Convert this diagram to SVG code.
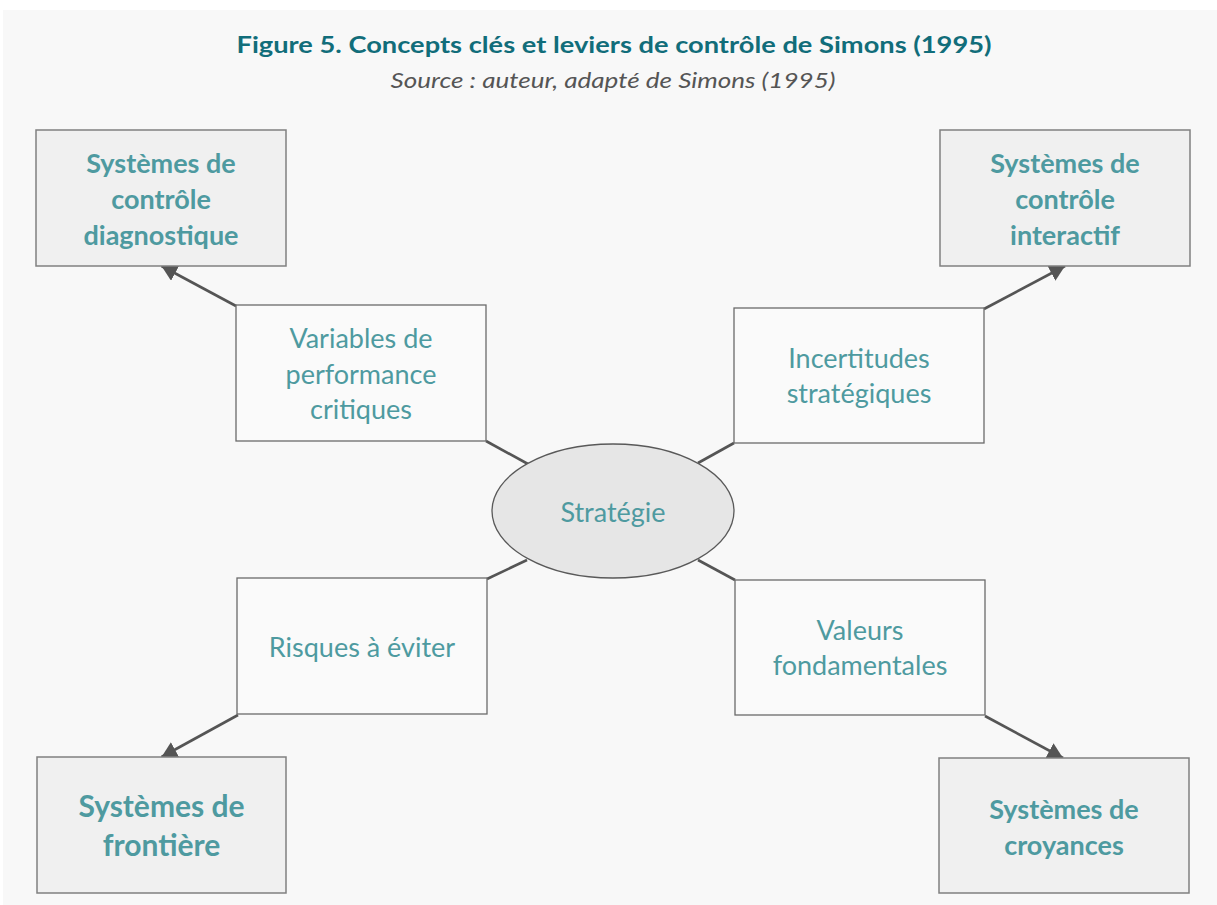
<svg xmlns="http://www.w3.org/2000/svg" width="1217" height="905" viewBox="0 0 1217 905">
<style>
.bg{fill:#f8f8f8}
.outer{fill:#f0f0f0;stroke:#808080;stroke-width:1.5}
.inner{fill:#fafafa;stroke:#6a6a6a;stroke-width:1.3}
.ell{fill:#e6e6e6;stroke:#595959;stroke-width:1.3}
.conn{stroke:#555;stroke-width:2.6;fill:none}
.t{font-family:Lato,"Open Sans",sans-serif;fill:#4e9aa0;text-anchor:middle}
.b{font-weight:bold;font-size:27px}
.r{font-size:27px}
.big{font-size:30px}
.title{font-family:Lato,"Open Sans",sans-serif;font-weight:bold;font-size:23px;fill:#116d7a;text-anchor:middle}
.sub{font-family:Lato,"Open Sans",sans-serif;font-style:italic;font-size:21px;fill:#555;text-anchor:middle}
</style>
<defs>
<marker id="ah" markerUnits="userSpaceOnUse" markerWidth="16" markerHeight="18" viewBox="0 0 16 18" refX="15.4" refY="8.5" orient="auto">
<path d="M0,0 L15.4,8.5 L0,17 z" fill="#555"/>
</marker>
</defs>
<rect x="0" y="0" width="1217" height="905" fill="#ffffff"/>
<rect class="bg" x="3" y="10" width="1214" height="895"/>
<g id="title">
<text class="title" x="614" y="53" textLength="755" lengthAdjust="spacingAndGlyphs">Figure 5. Concepts clés et leviers de contrôle de Simons (1995)</text>
<text class="sub" x="613" y="88" textLength="445" lengthAdjust="spacingAndGlyphs">Source : auteur, adapté de Simons (1995)</text>
</g>
<g id="connectors">
<line class="conn" x1="236" y1="306" x2="161.5" y2="266" marker-end="url(#ah)"/>
<line class="conn" x1="984" y1="309" x2="1065" y2="266" marker-end="url(#ah)"/>
<line class="conn" x1="238" y1="715" x2="161.5" y2="757" marker-end="url(#ah)"/>
<line class="conn" x1="985" y1="716" x2="1063" y2="758" marker-end="url(#ah)"/>
<line class="conn" x1="486" y1="441" x2="528" y2="464"/>
<line class="conn" x1="734" y1="443" x2="698" y2="463"/>
<line class="conn" x1="487" y1="579" x2="527" y2="560"/>
<line class="conn" x1="698" y1="560" x2="735" y2="580"/>
</g>
<g id="diagnostique">
<rect class="outer" x="36" y="130" width="250" height="136"/>
<text class="t b" x="161" y="173">Systèmes de</text>
<text class="t b" x="161" y="209">contrôle</text>
<text class="t b" x="161" y="245">diagnostique</text>
</g>
<g id="interactif">
<rect class="outer" x="940" y="130" width="250" height="136"/>
<text class="t b" x="1065" y="173">Systèmes de</text>
<text class="t b" x="1065" y="209">contrôle</text>
<text class="t b" x="1065" y="245">interactif</text>
</g>
<g id="frontiere">
<rect class="outer" x="37" y="757" width="249" height="136"/>
<text class="t b big" x="161.5" y="817">Systèmes de</text>
<text class="t b big" x="161.5" y="856">frontière</text>
</g>
<g id="croyances">
<rect class="outer" x="939" y="758" width="250" height="135"/>
<text class="t b" x="1064" y="819">Systèmes de</text>
<text class="t b" x="1064" y="855">croyances</text>
</g>
<g id="variables">
<rect class="inner" x="236" y="305" width="250" height="136"/>
<text class="t r" x="361" y="348">Variables de</text>
<text class="t r" x="361" y="384">performance</text>
<text class="t r" x="361" y="419">critiques</text>
</g>
<g id="incertitudes">
<rect class="inner" x="734" y="308" width="250" height="135"/>
<text class="t r" x="859" y="368">Incertitudes</text>
<text class="t r" x="859" y="403">stratégiques</text>
</g>
<g id="risques">
<rect class="inner" x="237" y="578" width="250" height="136"/>
<text class="t r" x="362" y="657">Risques à éviter</text>
</g>
<g id="valeurs">
<rect class="inner" x="735" y="580" width="250" height="135"/>
<text class="t r" x="860" y="640">Valeurs</text>
<text class="t r" x="860" y="675">fondamentales</text>
</g>
<g id="strategie">
<ellipse class="ell" cx="613" cy="511" rx="121" ry="67"/>
<text class="t r" x="613" y="522">Stratégie</text>
</g>
</svg>
